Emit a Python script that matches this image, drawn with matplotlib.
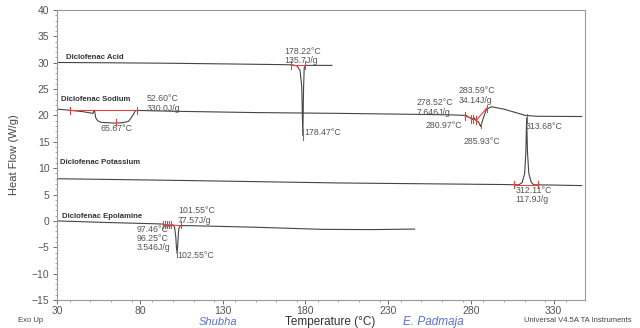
import numpy as np
import matplotlib
matplotlib.use("Agg")
import matplotlib.pyplot as plt
from matplotlib.ticker import MultipleLocator

plt.rcParams['font.family'] = ['Liberation Sans', 'DejaVu Sans']

# ---- data (temperature °C, heat flow W/g) ----
acid_T = [30, 60, 100, 140, 165, 172, 175, 176.8, 177.8, 178.47, 178.9, 179.3, 180, 185, 196]
acid_V = [30.05, 30.0, 29.9, 29.75, 29.65, 29.6, 29.4, 28.5, 25.5, 16.2, 25.0, 29.0, 29.5, 29.5, 29.5]

sodium_T = [30, 37.5, 46, 51.6, 52.6, 53.3, 54.5, 56.5, 62, 65.67, 70, 73.2, 75.9, 77.3, 79,
            100, 150, 200, 250, 270, 277.3, 278.5, 279.5, 280.3, 280.97, 281.8, 283.3, 284.5,
            285.93, 287.5, 289.4, 292.4, 300, 313, 320, 347]
sodium_V = [21.2, 21.0, 20.7, 20.4, 21.0, 19.6, 19.0, 18.7, 18.6, 18.55, 18.65, 18.9, 20.1, 20.9, 20.95,
            20.8, 20.55, 20.4, 20.2, 20.1, 20.0, 19.7, 19.6, 19.3, 19.25, 19.6, 19.0, 18.8,
            17.9, 19.5, 21.16, 21.66, 21.2, 20.0, 19.85, 19.8]

potassium_T = [30, 100, 200, 300, 309, 311, 312.5, 313.2, 313.68, 314.2, 315, 316.5, 318, 330, 347]
potassium_V = [8.0, 7.7, 7.2, 6.9, 6.85, 7.3, 9.0, 13.0, 19.5, 13.0, 9.0, 7.3, 6.85, 6.8, 6.7]

epolamine_T = [30, 60, 90, 94, 95.5, 96.25, 97, 97.46, 98, 99, 100, 101, 101.7, 102.1, 102.55,
               103, 103.5, 104.5, 110, 150, 190, 220, 246]
epolamine_V = [0.0, -0.3, -0.55, -0.6, -0.9, -0.7, -1.0, -0.8, -1.1, -0.7, -0.75, -1.2, -3.0, -5.0, -6.2,
               -4.0, -1.5, -0.9, -0.9, -1.2, -1.6, -1.65, -1.55]

curve_names = ["Diclofenac Acid", "Diclofenac Sodium", "Diclofenac Potassium", "Diclofenac Epolamine"]
name_pos = [(35.2, 31.0), (32.2, 23.05), (31.8, 11.0), (32.8, 0.8)]

annotations = [
    ("52.60°C\n330.0J/g", 84.3, 22.3),
    ("65.67°C", 56.0, 17.6),
    ("178.22°C\n135.7J/g", 167.5, 31.3),
    ("178.47°C", 179.1, 16.7),
    ("278.52°C\n7.646J/g", 247.0, 21.5),
    ("283.59°C\n34.14J/g", 272.6, 23.8),
    ("280.97°C", 252.5, 18.05),
    ("285.93°C", 275.6, 15.1),
    ("313.68°C", 313.4, 17.86),
    ("312.11°C\n117.9J/g", 306.8, 4.95),
    ("101.55°C\n77.57J/g", 103.0, 1.0),
    ("97.46°C", 78.3, -1.65),
    ("96.25°C\n3.546J/g", 78.3, -4.15),
    ("102.55°C", 102.4, -6.5),
]

fig = plt.figure(figsize=(6.4, 3.28), dpi=100)
ax = fig.add_axes([0.0892, 0.0854, 0.825, 0.884])

line_col = "#444444"
for T, V in [(acid_T, acid_V), (sodium_T, sodium_V), (potassium_T, potassium_V), (epolamine_T, epolamine_V)]:
    ax.plot(T, V, color=line_col, lw=0.8)

red = "#e8403c"
def hseg(x0, x1, y):
    ax.plot([x0, x1], [y, y], color=red, lw=0.8)
    for x in (x0, x1):
        ax.plot([x, x], [y - 0.7, y + 0.7], color=red, lw=0.8)

hseg(37.5, 78.3, 21.0)
ax.plot([65.67, 65.67], [18.0, 19.3], color=red, lw=0.8)
hseg(171.5, 179.5, 29.6)
ax.plot([178.47, 178.47], [15.3, 17.5], color=red, lw=0.8)
hseg(306.2, 320.8, 6.9)
ax.plot([313.68, 313.68], [18.6, 20.2], color=red, lw=0.8)
for x, y in [(276.5, 19.9), (280.0, 19.3), (281.2, 19.3), (283.3, 19.1)]:
    ax.plot([x, x], [y - 0.8, y + 0.8], color=red, lw=0.8)
ax.plot([276.5, 283.3], [19.9, 19.1], color=red, lw=0.8)
ax.plot([283.3, 289.6], [19.1, 21.4], color=red, lw=0.8)
ax.plot([285.93, 285.93], [17.6, 18.6], color=red, lw=0.8)
ax.plot([289.6, 289.6], [20.7, 22.0], color=red, lw=0.8)
for x in (93.8, 95.0, 96.3, 97.5, 98.6, 104.6):
    ax.plot([x, x], [-1.4, 0.0], color=red, lw=0.8)
ax.plot([93.8, 104.6], [-0.7, -0.9], color=red, lw=0.8)
ax.plot([102.55, 102.55], [-6.9, -5.5], color=red, lw=0.8)

for name, (x, y) in zip(curve_names, name_pos):
    ax.text(x, y, name, fontsize=5.6, fontweight='bold', color="#333333", va='center', ha='left')

for txt, x, y in annotations:
    ax.text(x, y, txt, fontsize=6.3, color="#555555", va='center', ha='left', linespacing=1.05)

ax.set_xlim(30, 349)
ax.set_ylim(-15, 40)
ax.set_xticks([30, 80, 130, 180, 230, 280, 330])
ax.set_yticks(np.arange(-15, 41, 5))
ax.xaxis.set_minor_locator(MultipleLocator(12.5))
ax.yaxis.set_minor_locator(MultipleLocator(1))
ax.tick_params(axis='both', labelsize=7.5, colors="#555555", length=3, width=0.6, direction='out')
ax.tick_params(axis='x', pad=1.0)
ax.tick_params(axis='y', pad=2.5)
ax.tick_params(axis='both', which='minor', length=1.5, width=0.5, colors="#888888")
for sp in ax.spines.values():
    sp.set_color("#999999")
    sp.set_linewidth(0.8)

ax.set_ylabel("Heat Flow (W/g)", fontsize=8, color="#444444", labelpad=9)
fig.text(0.516, 0.019, "Temperature (°C)", fontsize=8.5, color="#333333", ha='center', va='center')
fig.text(0.028, 0.024, "Exo Up", fontsize=5.5, color="#444444", ha='left', va='center')
fig.text(0.818, 0.024, "Universal V4.5A TA Instruments", fontsize=5.5, color="#444444", ha='left', va='center')
fig.text(0.31, 0.019, "Shubha", fontsize=8, color="#5a6fd0", style='italic', ha='left', va='center')
fig.text(0.63, 0.019, "E. Padmaja", fontsize=8.5, color="#5a6fd0", style='italic', ha='left', va='center')

fig.savefig("out.png", dpi=100)
